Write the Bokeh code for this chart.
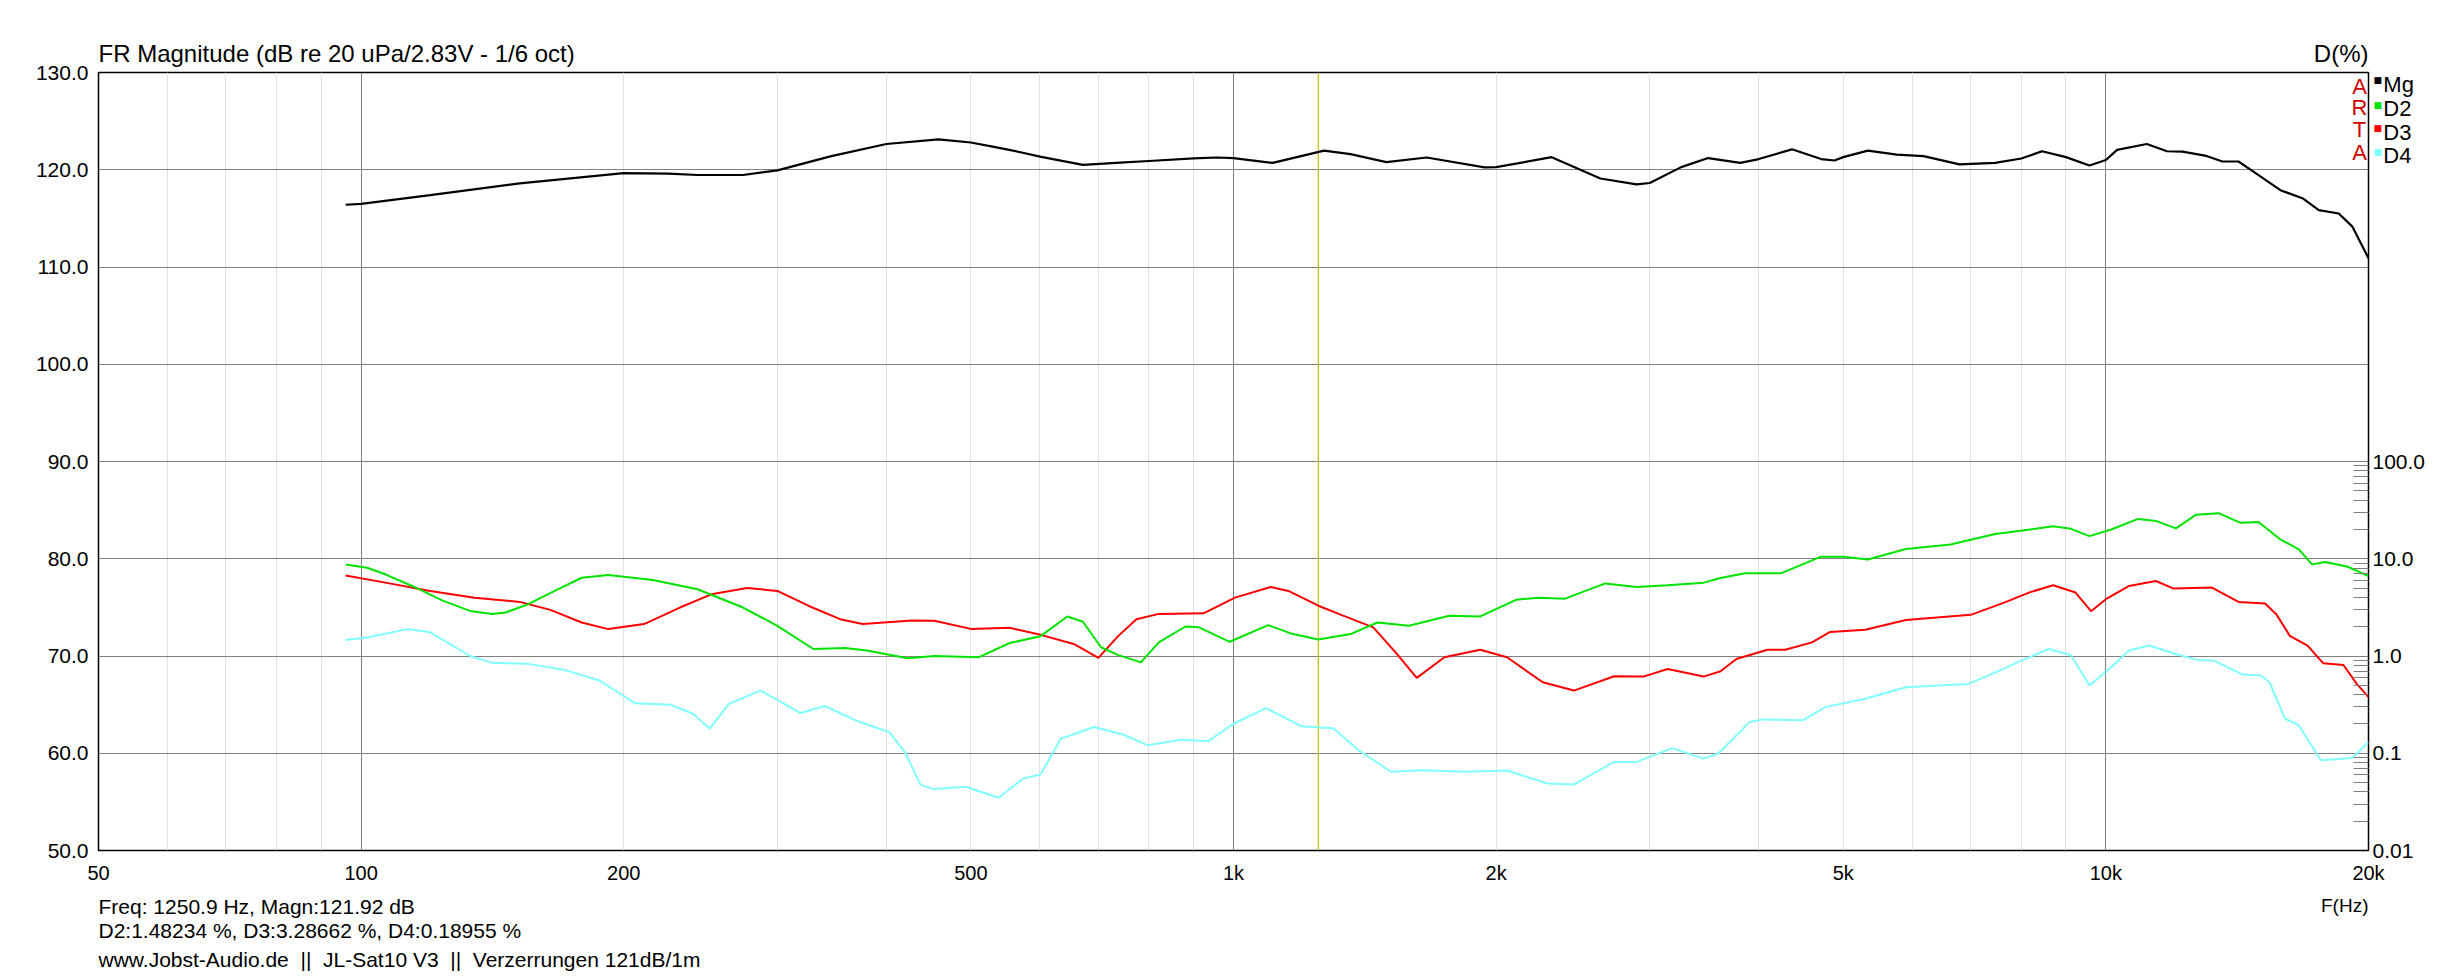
from bokeh.plotting import figure
from bokeh.models import (Range1d, LogScale, LogAxis, FixedTicker,
                          PrintfTickFormatter, Label, Span)
from bokeh.embed import file_html
from bokeh.resources import INLINE

# ---------------- data ----------------
mg_freq = [96, 100, 120, 152, 200, 225, 243, 274, 300, 346, 400, 459, 500, 535, 570,
           600, 672, 750, 800, 900, 957, 1000, 1109, 1270, 1362, 1497, 1665, 1940,
           2000, 2316, 2634, 2897, 3000, 3260, 3500, 3810, 4000, 4366, 4716, 4885,
           5000, 5335, 5760, 6180, 6795, 7464, 8000, 8450, 9000, 9575, 10000, 10300,
           11140, 11750, 12240, 12990, 13600, 14190, 14790, 15850, 16830, 17540,
           18490, 19170, 20000]
mg_db = [116.4, 116.5, 117.4, 118.6, 119.66, 119.6, 119.46, 119.46, 119.93, 121.4,
         122.65, 123.13, 122.8, 122.3, 121.8, 121.35, 120.5, 120.75, 120.9, 121.16,
         121.26, 121.2, 120.7, 121.97, 121.6, 120.78, 121.26, 120.24, 120.27, 121.29,
         119.1, 118.5, 118.64, 120.27, 121.2, 120.7, 121.1, 122.1, 121.1, 120.95,
         121.3, 121.97, 121.56, 121.4, 120.55, 120.7, 121.16, 121.9, 121.3, 120.44,
         121.0, 122.04, 122.65, 121.9, 121.87, 121.46, 120.85, 120.85, 119.76, 117.9,
         117.04, 115.85, 115.5, 114.15, 110.9]

d2_freq = [96, 101.6, 106.6, 114.4, 124.2, 133.3, 141.4, 146.4, 155.4, 166.7, 179, 192,
           216, 243, 274, 300, 330, 358.6, 380, 423, 454, 510, 554, 601, 645, 672, 705,
           738, 783, 821, 881, 913, 990, 1096, 1170, 1251, 1362, 1462, 1589, 1767, 1918,
           2108, 2236, 2399, 2668, 2897, 3145, 3459, 3617, 3860, 4240, 4716, 5000, 5335,
           5898, 6636, 7464, 8300, 8700, 9120, 9575, 10140, 10890, 11410, 12030, 12690,
           13460, 14270, 14960, 15850, 16640, 17230, 17850, 18930, 20000]
d2_pct = [8.75, 8.09, 6.92, 5.25, 3.69, 2.91, 2.71, 2.80, 3.41, 4.67, 6.38, 6.8, 6.05,
          4.86, 3.15, 2.04, 1.18, 1.21, 1.14, 0.946, 1.0, 0.97, 1.36, 1.6, 2.55, 2.25,
          1.23, 1.02, 0.86, 1.38, 2.01, 1.97, 1.40, 2.08, 1.68, 1.48, 1.68, 2.21, 2.05,
          2.59, 2.55, 3.78, 3.98, 3.89, 5.58, 5.13, 5.33, 5.68, 6.34, 7.08, 7.08, 10.5,
          10.5, 9.84, 12.6, 14.0, 18.0, 20.3, 21.6, 20.3, 17.1, 20.0, 25.7, 24.5, 20.5,
          28.4, 29.4, 23.4, 23.9, 15.8, 12.5, 8.75, 9.25, 8.28, 6.65]

d3_freq = [96, 106.6, 120, 134.9, 152, 164.8, 179, 192, 211, 232, 252, 277, 300, 326,
           354, 376, 428, 454, 500, 554, 601, 656, 700, 738, 774, 821, 924, 1004, 1103,
           1156, 1251, 1331, 1446, 1534, 1622, 1745, 1918, 2058, 2262, 2456, 2731, 2950,
           3145, 3459, 3617, 3770, 4094, 4290, 4604, 4830, 5300, 5898, 7000, 7645, 8204,
           8700, 9230, 9616, 10000, 10630, 11410, 11960, 13230, 14190, 15220, 15680,
           16250, 17030, 17750, 18720, 19390, 20000]
d3_pct = [6.74, 5.68, 4.67, 3.98, 3.6, 2.98, 2.21, 1.89, 2.13, 3.15, 4.31, 5.01, 4.67,
          3.27, 2.39, 2.13, 2.32, 2.30, 1.9, 1.95, 1.65, 1.33, 0.955, 1.61, 2.39, 2.71,
          2.75, 3.98, 5.13, 4.67, 3.29, 2.63, 1.97, 1.09, 0.596, 0.97, 1.16, 0.97, 0.537,
          0.441, 0.62, 0.614, 0.736, 0.614, 0.697, 0.931, 1.16, 1.16, 1.38, 1.77, 1.86,
          2.34, 2.65, 3.54, 4.56, 5.33, 4.49, 2.89, 3.84, 5.25, 5.9, 4.93, 5.05, 3.6,
          3.46, 2.69, 1.61, 1.28, 0.841, 0.809, 0.516, 0.378]

d4_freq = [96, 101.6, 113, 120, 133.3, 141.4, 155.4, 170.7, 187.6, 206, 226.5, 240, 251,
           264, 287, 319, 340, 371, 403, 420, 438, 454, 493, 538, 574, 601, 634, 692,
           748, 797, 871, 935, 1000, 1090, 1197, 1301, 1396, 1515, 1645, 1851, 2058,
           2289, 2456, 2731, 2897, 3184, 3459, 3596, 3904, 4040, 4496, 4768, 5300, 5898,
           6955, 7553, 8000, 8597, 9120, 9575, 10140, 10630, 11210, 12030, 12690, 13300,
           14350, 15050, 15400, 16050, 16640, 17640, 19170, 20000]
d4_pct = [1.46, 1.55, 1.89, 1.75, 1.0, 0.85, 0.83, 0.724, 0.56, 0.327, 0.315, 0.255,
          0.179, 0.322, 0.441, 0.259, 0.306, 0.213, 0.165, 0.103, 0.047, 0.0428, 0.0452,
          0.0349, 0.055, 0.0605, 0.141, 0.186, 0.155, 0.121, 0.138, 0.133, 0.201, 0.291,
          0.189, 0.181, 0.105, 0.0645, 0.067, 0.0645, 0.0665, 0.0489, 0.0478, 0.0815,
          0.0815, 0.113, 0.088, 0.0993, 0.209, 0.223, 0.218, 0.298, 0.363, 0.477, 0.516,
          0.707, 0.895, 1.18, 1.02, 0.497, 0.766, 1.14, 1.28, 1.05, 0.917, 0.895, 0.644,
          0.629, 0.537, 0.226, 0.194, 0.0848, 0.0896, 0.13]

cursor_freq = 1250.9

x_ticks = [50, 100, 200, 500, 1000, 2000, 5000, 10000, 20000]
x_tick_labels = ["50", "100", "200", "500", "1k", "2k", "5k", "10k", "20k"]
x_major_grid = [100, 1000, 10000]
x_minor_grid = [60, 70, 80, 90, 200, 300, 400, 500, 600, 700, 800, 900,
                2000, 3000, 4000, 5000, 6000, 7000, 8000, 9000]
y_ticks = [50, 60, 70, 80, 90, 100, 110, 120, 130]
pct_ticks = [0.01, 0.1, 1, 10, 100]
pct_tick_labels = ["0.01", "0.1", "1.0", "10.0", "100.0"]
pct_minor = [m * d for d in (0.01, 0.1, 1, 10) for m in range(2, 10)]

title_text = "FR Magnitude (dB re 20 uPa/2.83V - 1/6 oct)"
right_title = "D(%)"
x_title = "F(Hz)"
info1 = "Freq: 1250.9 Hz, Magn:121.92 dB"
info2 = "D2:1.48234 %, D3:3.28662 %, D4:0.18955 %"
info3 = "www.Jobst-Audio.de\u00a0\u00a0||\u00a0\u00a0JL-Sat10 V3\u00a0\u00a0||\u00a0\u00a0Verzerrungen 121dB/1m"
legend_names = ["Mg", "D2", "D3", "D4"]
legend_colors = ["#000000", "#00e400", "#ff0000", "#80ffff"]
arta_letters = ["A", "R", "T", "A"]

FONT = "Liberation Sans"

# ---------------- figure ----------------
p = figure(width=2464, height=976, x_axis_type="log",
           x_range=Range1d(50, 20000), y_range=Range1d(50, 130),
           output_backend="svg", toolbar_location=None, title=None,
           min_border_left=98, min_border_right=96,
           min_border_top=72, min_border_bottom=125)
p.background_fill_color = "white"
p.border_fill_color = "white"
p.outline_line_color = "black"
p.outline_line_width = 1.5

p.extra_y_ranges = {"pct": Range1d(0.01, 1e6)}
p.extra_y_scales = {"pct": LogScale()}

# grids
p.xgrid.ticker = FixedTicker(ticks=x_major_grid, minor_ticks=x_minor_grid)
p.xgrid.grid_line_color = "#808080"
p.xgrid.minor_grid_line_color = "#e2e2e2"
p.ygrid.ticker = FixedTicker(ticks=y_ticks)
p.ygrid.grid_line_color = "#808080"

# bottom axis
xa = p.xaxis[0]
xa.ticker = FixedTicker(ticks=x_ticks)
xa.major_label_overrides = {t: s for t, s in zip(x_ticks, x_tick_labels)}
xa.major_tick_line_color = None
xa.major_tick_out = 0
xa.major_tick_in = 0
xa.minor_tick_line_color = None
xa.minor_tick_out = 0
xa.axis_line_color = None
xa.major_label_text_font = FONT
xa.major_label_text_font_size = "20px"
xa.major_label_text_color = "black"
xa.major_label_standoff = 11

# left axis
ya = p.yaxis[0]
ya.ticker = FixedTicker(ticks=y_ticks)
ya.formatter = PrintfTickFormatter(format="%.1f")
ya.major_tick_line_color = None
ya.major_tick_out = 0
ya.major_tick_in = 0
ya.minor_tick_line_color = None
ya.minor_tick_out = 0
ya.axis_line_color = None
ya.major_label_text_font = FONT
ya.major_label_text_font_size = "21px"
ya.major_label_text_color = "black"
ya.major_label_standoff = 10

# right axis (distortion %)
overrides = {t: s for t, s in zip(pct_ticks, pct_tick_labels)}
ra = LogAxis(y_range_name="pct",
             ticker=FixedTicker(ticks=pct_ticks, minor_ticks=pct_minor),
             major_label_overrides=overrides,
             major_tick_line_color=None, major_tick_out=0, major_tick_in=0,
             minor_tick_in=15, minor_tick_out=0,
             minor_tick_line_color="#808080",
             axis_line_color=None,
             major_label_text_font=FONT,
             major_label_text_font_size="21px",
             major_label_text_color="black",
             major_label_standoff=4)
p.add_layout(ra, "right")

# cursor
cursor = Span(location=cursor_freq, dimension="height", line_color="#c0c000",
              line_width=1.2, level="underlay")
p.add_layout(cursor)

# curves
p.line(d4_freq, d4_pct, y_range_name="pct", line_color=legend_colors[3], line_width=2)
p.line(d3_freq, d3_pct, y_range_name="pct", line_color=legend_colors[2], line_width=2)
p.line(d2_freq, d2_pct, y_range_name="pct", line_color=legend_colors[1], line_width=2)
p.line(mg_freq, mg_db, line_color=legend_colors[0], line_width=2.2)

# texts (positioned in data units; side panel only keeps them unclipped)
def add_label(x, y, text, size, color="black", align="left", font=FONT,
              place=None, line_height=1.2):
    lab = Label(x=x, y=y, text=text, text_font=font, text_font_size=size,
                text_color=color, text_align=align, text_baseline="middle",
                text_line_height=line_height)
    if place is None:
        p.add_layout(lab)
    else:
        p.add_layout(lab, place)

add_label(50, 131.91, title_text, "24px", place="above")
add_label(20000, 131.91, right_title, "24px", align="right", place="above")
add_label(50, 44.21, info1, "21px", place="below")
add_label(50, 41.74, info2, "21px", place="below")
add_label(50, 38.77, info3, "21px", place="below")
add_label(20000, 44.39, x_title, "19px", align="right", place="below")

arta_y = [128.59, 126.36, 124.14, 121.82]
for ch, yy in zip(arta_letters, arta_y):
    add_label(19530, yy, ch, "22px", color="#d00000", align="center")

add_label(20800, 125.07, "\n".join(legend_names), "22px", place="left",
          line_height=0.947)

sq_y = [129.18, 126.66, 124.30, 121.78]
for col, sy in zip(legend_colors, sq_y):
    add_label(20500, sy, "\u25a0", "9px", color=col, align="center",
              font="DejaVu Sans", place="right")

open("out.html", "w").write(file_html(p, INLINE))
